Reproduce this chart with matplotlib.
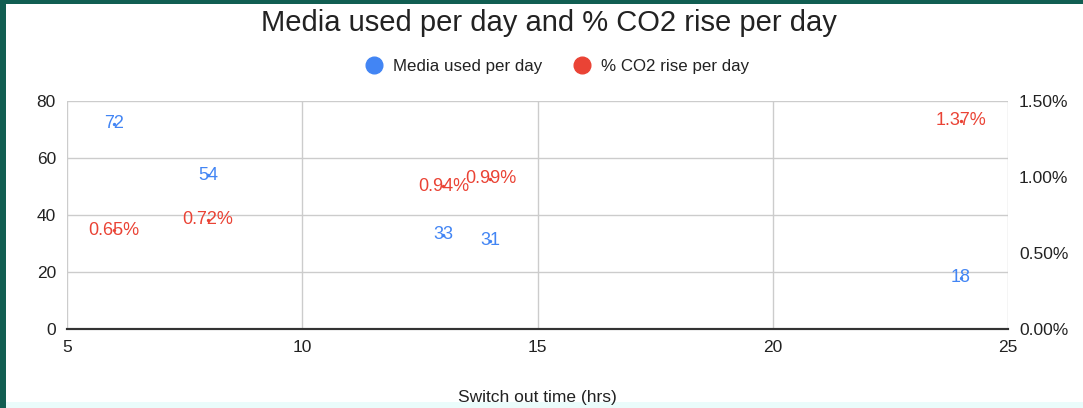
import matplotlib
matplotlib.use("Agg")
import matplotlib.pyplot as plt
from matplotlib.patches import Rectangle
from matplotlib.lines import Line2D
from matplotlib.ticker import FuncFormatter

# Switch out time (hrs) for each run
switch_hours = [6, 8, 13, 14, 24]
# Media used per day
media_used = [72, 54, 33, 31, 18]
# % CO2 rise per day
co2_rise = [0.65, 0.72, 0.94, 0.99, 1.37]

x_ticks = [5, 10, 15, 20, 25]
left_ticks = [0, 20, 40, 60, 80]
right_ticks = [0.0, 0.5, 1.0, 1.5]

BLUE = "#4285F4"
RED = "#EA4335"
GRID = "#cccccc"
DARK = "#222222"

plt.rcParams["font.family"] = ["Liberation Sans", "DejaVu Sans"]

fig = plt.figure(figsize=(10.83, 4.08), dpi=100)
fig.patch.set_facecolor("#115e52")
# white card inside the dark frame
fig.add_artist(Rectangle((6 / 1083, 6 / 408), 1 - 6 / 1083, 1 - 10 / 408,
                         transform=fig.transFigure, facecolor="white",
                         edgecolor="none", zorder=0))
fig.add_artist(Rectangle((6 / 1083, 0), 1 - 6 / 1083, 6 / 408,
                         transform=fig.transFigure, facecolor="#eafcfb",
                         edgecolor="none", zorder=0))

ax = fig.add_axes([67 / 1083, 1 - 329 / 408, 941 / 1083, 228 / 408])
ax.set_facecolor("none")
ax2 = ax.twinx()

ax.set_xlim(5, 25)
ax.set_ylim(0, 80)
ax2.set_ylim(0, 1.5)

ax.set_xticks(x_ticks)
ax.set_yticks(left_ticks)
ax2.set_yticks(right_ticks)
ax2.yaxis.set_major_formatter(FuncFormatter(lambda v, p: f"{v:.2f}%"))

ax.grid(True, color=GRID, linewidth=1)
ax.set_axisbelow(True)
for a in (ax, ax2):
    for side in ("top", "left", "right"):
        a.spines[side].set_visible(False)
    a.spines["bottom"].set_color("#333333")
    a.spines["bottom"].set_linewidth(1.5)
    a.tick_params(length=0, labelsize=12.5, colors=DARK)
ax.tick_params(axis="y", pad=8)
ax.tick_params(axis="x", pad=8)
ax2.tick_params(axis="y", pad=8)

# series points with their value labels
ax.scatter(switch_hours, media_used, s=2, color=BLUE, zorder=3)
for x, y in zip(switch_hours, media_used):
    ax.text(x, y, f"{y}", color=BLUE, fontsize=13, ha="center", va="center", zorder=4)

ax2.scatter(switch_hours, co2_rise, s=2, color=RED, zorder=3)
for x, y in zip(switch_hours, co2_rise):
    ax2.text(x, y, f"{y:.2f}%", color=RED, fontsize=13, ha="center", va="center", zorder=4)

ax.set_xlabel("Switch out time (hrs)", fontsize=12.5, color=DARK, labelpad=25)

fig.text(549 / 1083, 1 - 23 / 408, "Media used per day and % CO2 rise per day",
         ha="center", va="center", fontsize=21, color=DARK)

handles = [
    Line2D([], [], marker="o", linestyle="none", markersize=12, color=BLUE,
           label="Media used per day"),
    Line2D([], [], marker="o", linestyle="none", markersize=12, color=RED,
           label="% CO2 rise per day"),
]
fig.legend(handles=handles, loc="center", bbox_to_anchor=(553 / 1083, 1 - 66 / 408),
           ncol=2, frameon=False, fontsize=12.2, handletextpad=0.15,
           columnspacing=1.3, labelcolor=DARK)

fig.savefig("out.png", dpi=100, facecolor=fig.get_facecolor())
